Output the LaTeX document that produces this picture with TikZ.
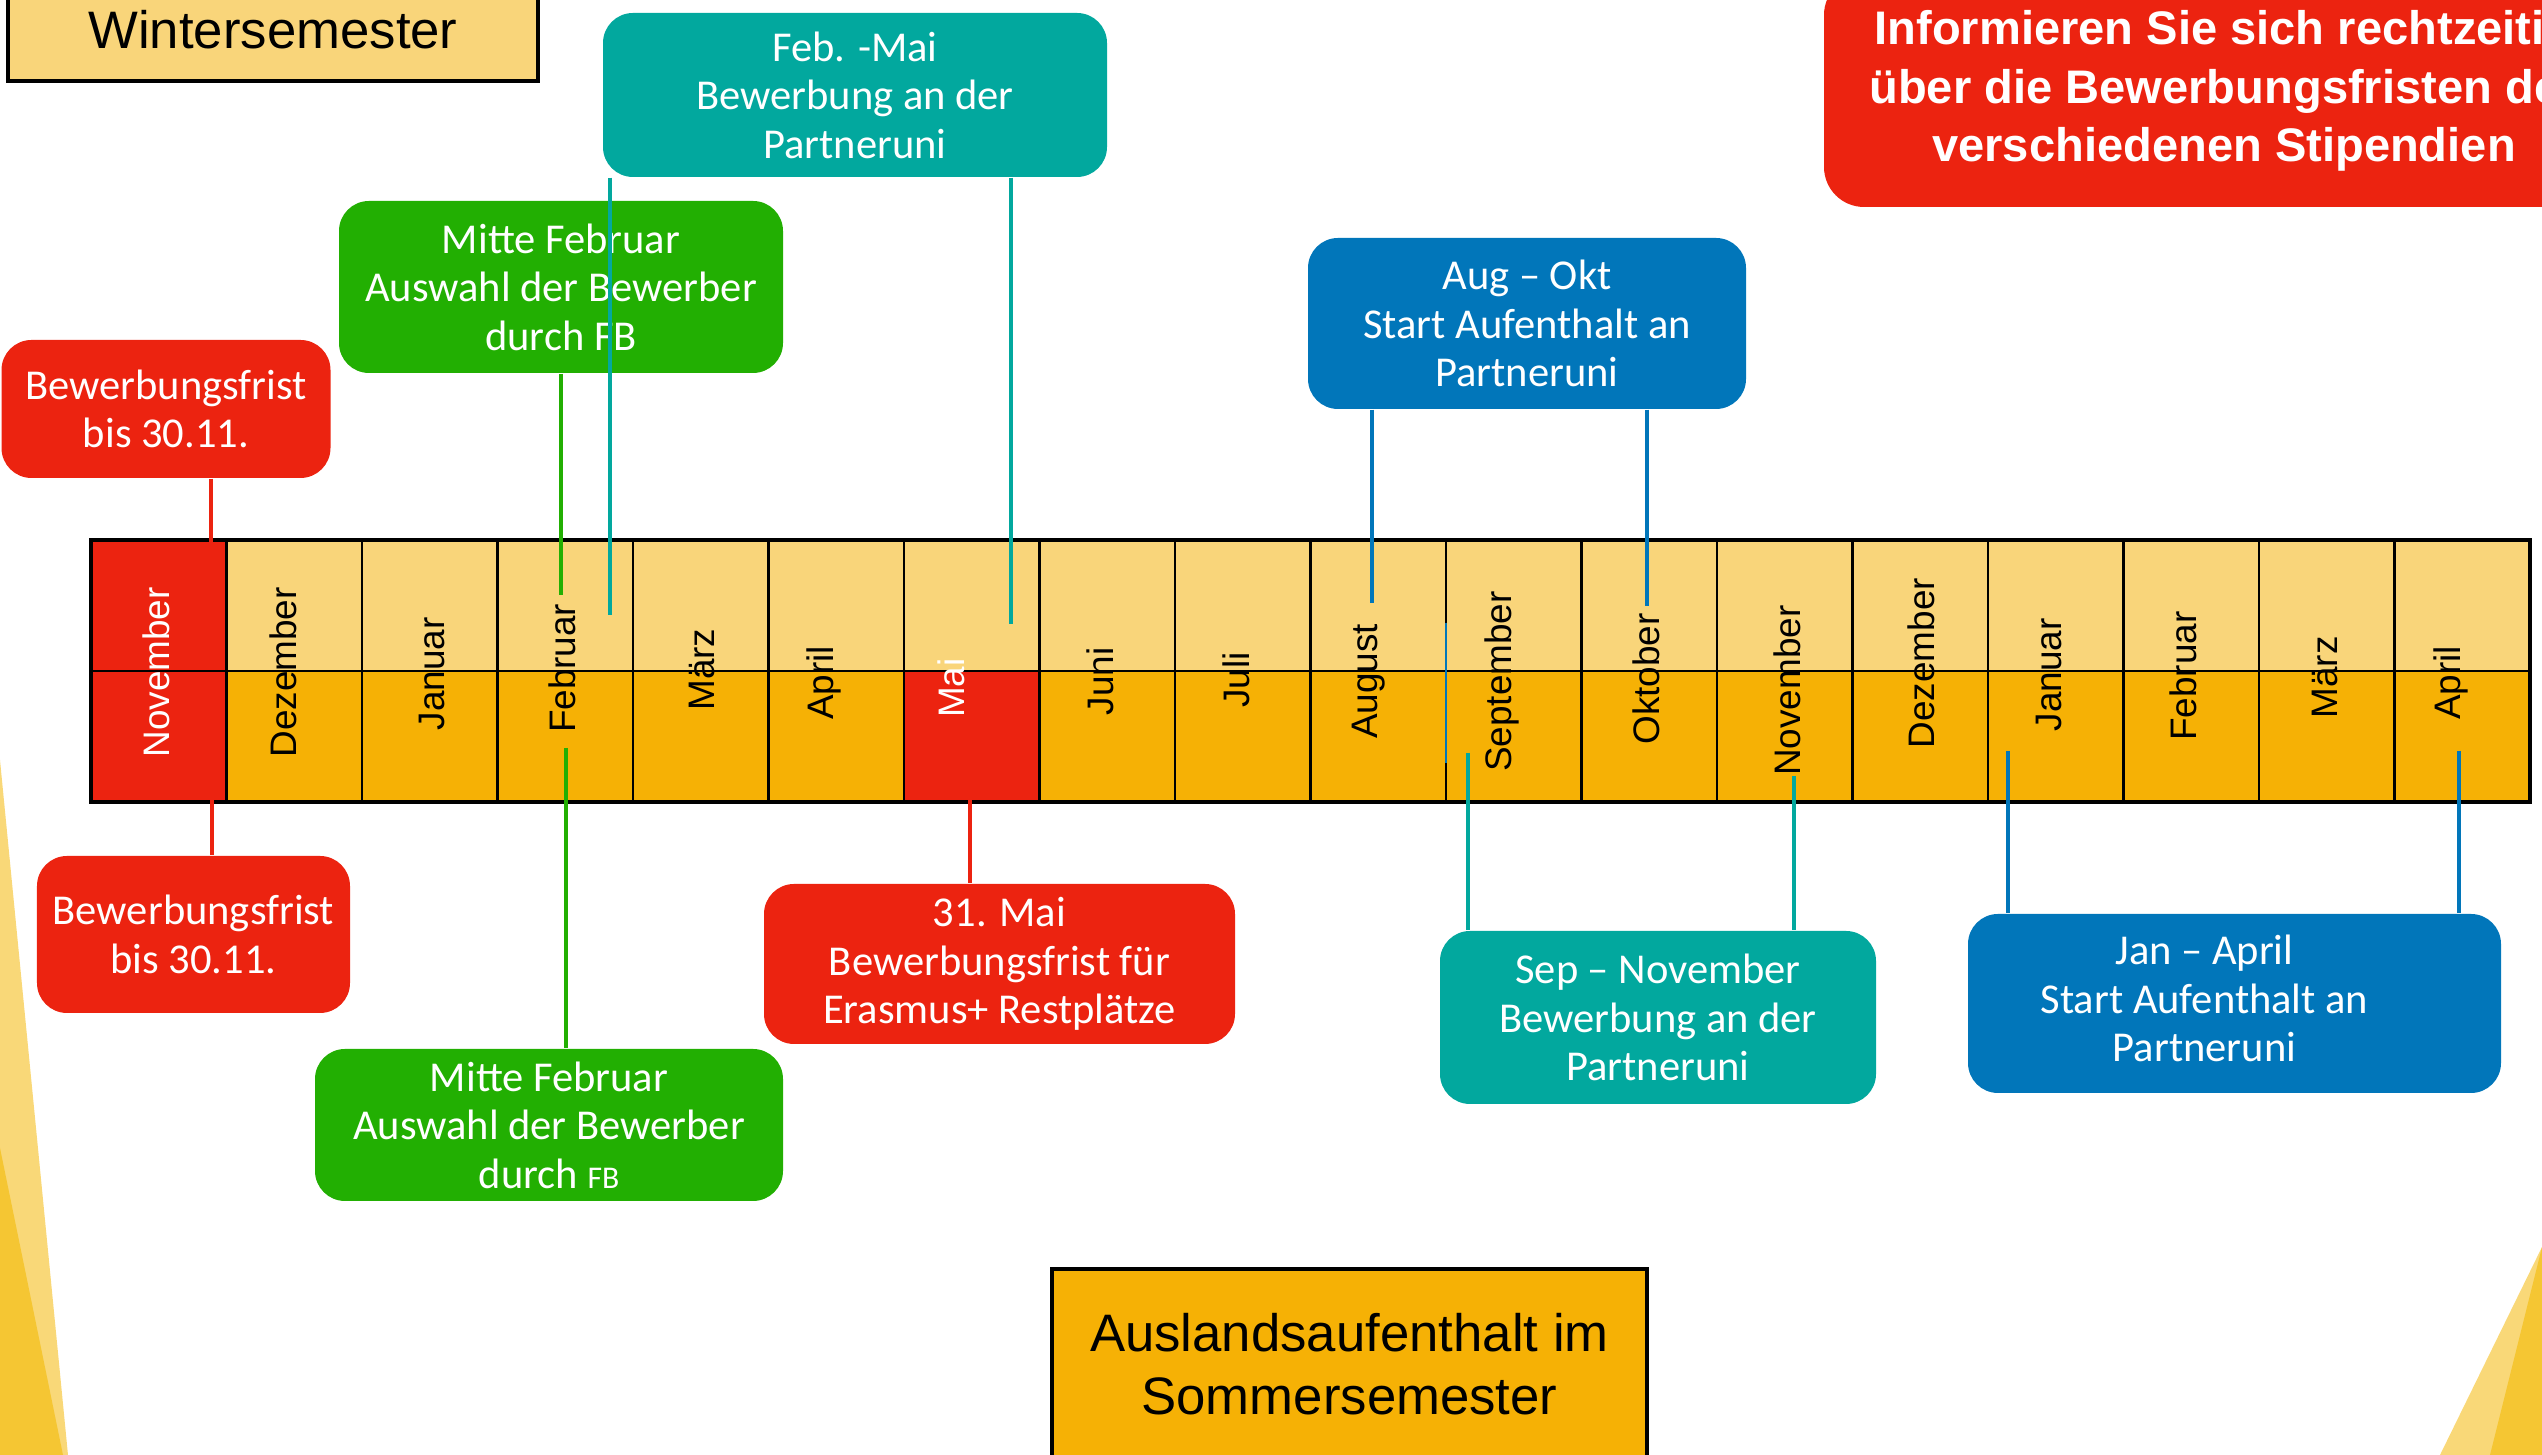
\documentclass[tikz,border=0pt]{standalone}
\usepackage{fontspec}
\setmainfont{Carlito}
\newfontfamily\arialfont{Liberation Sans}
\usetikzlibrary{positioning}

\definecolor{fristred}{HTML}{EC2310}
\definecolor{auswahlgreen}{HTML}{22AF02}
\definecolor{uniteal}{HTML}{02A89E}
\definecolor{startblue}{HTML}{0176BA}
\definecolor{wsyellow}{HTML}{F9D57A}
\definecolor{ssorange}{HTML}{F6B105}
\definecolor{cornerlight}{HTML}{F9D878}
\definecolor{cornerdark}{HTML}{F5C633}

\tikzset{
    callout/.style={rounded corners=3mm, text=white, align=center, inner sep=0pt,
        font=\fontsize{12.1}{13.8}\selectfont},
    pinline/.style={line width=1.3pt},
    cell/.style={draw=black, line width=0.7pt},
    monthlabel/.style={rotate=90, inner sep=0pt, font=\arialfont\fontsize{10.5}{12}\selectfont},
    titlebox/.style={draw=black, line width=0.9pt, align=center,
        font=\arialfont\fontsize{15}{18}\selectfont},
}

\begin{document}
\begin{tikzpicture}
    \path[use as bounding box, clip] (0,0) rectangle (25.42,14.55);

    %%% Corner decoration %%%
    \fill[cornerlight] (0,6.95) -- (0.68,0) -- (0,0) -- cycle;
    \fill[cornerdark] (0,3.07) -- (0.63,0) -- (0,0) -- cycle;
    \fill[cornerlight] (25.42,2.08) -- (24.40,0) -- (25.42,0) -- cycle;
    \fill[cornerdark] (25.42,2.08) -- (24.90,0) -- (25.42,0) -- cycle;

    %%% Semester boxes %%%
    \node[titlebox, fill=wsyellow, minimum width=5.30cm, minimum height=1.02cm] (winter) at (2.73,14.25) {Wintersemester};
    \node[titlebox, fill=ssorange, minimum width=5.95cm, minimum height=1.91cm] (sommer) at (13.495,0.905) {Auslandsaufenthalt im\\Sommersemester};
    \node[fill=fristred, rounded corners=4mm, text=white, align=center, minimum width=8cm, minimum height=2.32cm,
        font=\arialfont\bfseries\fontsize{13.4}{16.6}\selectfont] (hinweis) at (22.24,13.64)
        {Informieren Sie sich rechtzeitig\\über die Bewerbungsfristen der\\verschiedenen Stipendien};

    %%% Month table %%%
    \begin{scope}[shift={(0.91cm,6.53cm)}, x=1.355cm, y=1.31cm]
    % Upper row
    \draw[cell, fill=fristred] (0,1) rectangle (1,2); % Nov
    \draw[cell, fill=wsyellow] (1,1) rectangle (2,2); % Dez
    \draw[cell, fill=wsyellow] (2,1) rectangle (3,2); % Jan
    \draw[cell, fill=wsyellow] (3,1) rectangle (4,2); % Feb
    \draw[cell, fill=wsyellow] (4,1) rectangle (5,2); % Mar
    \draw[cell, fill=wsyellow] (5,1) rectangle (6,2); % Apr
    \draw[cell, fill=wsyellow] (6,1) rectangle (7,2); % Mai
    \draw[cell, fill=wsyellow] (7,1) rectangle (8,2); % Jun
    \draw[cell, fill=wsyellow] (8,1) rectangle (9,2); % Jul
    \draw[cell, fill=wsyellow] (9,1) rectangle (10,2); % Aug
    \draw[cell, fill=wsyellow] (10,1) rectangle (11,2); % Sep
    \draw[cell, fill=wsyellow] (11,1) rectangle (12,2); % Okt
    \draw[cell, fill=wsyellow] (12,1) rectangle (13,2); % Nov
    \draw[cell, fill=wsyellow] (13,1) rectangle (14,2); % Dez
    \draw[cell, fill=wsyellow] (14,1) rectangle (15,2); % Jan
    \draw[cell, fill=wsyellow] (15,1) rectangle (16,2); % Feb
    \draw[cell, fill=wsyellow] (16,1) rectangle (17,2); % Mar
    \draw[cell, fill=wsyellow] (17,1) rectangle (18,2); % Apr
    % Lower row
    \draw[cell, fill=fristred] (0,0) rectangle (1,1); % Nov
    \draw[cell, fill=ssorange] (1,0) rectangle (2,1); % Dez
    \draw[cell, fill=ssorange] (2,0) rectangle (3,1); % Jan
    \draw[cell, fill=ssorange] (3,0) rectangle (4,1); % Feb
    \draw[cell, fill=ssorange] (4,0) rectangle (5,1); % Mar
    \draw[cell, fill=ssorange] (5,0) rectangle (6,1); % Apr
    \draw[cell, fill=fristred] (6,0) rectangle (7,1); % Mai
    \draw[cell, fill=ssorange] (7,0) rectangle (8,1); % Jun
    \draw[cell, fill=ssorange] (8,0) rectangle (9,1); % Jul
    \draw[cell, fill=ssorange] (9,0) rectangle (10,1); % Aug
    \draw[cell, fill=ssorange] (10,0) rectangle (11,1); % Sep
    \draw[cell, fill=ssorange] (11,0) rectangle (12,1); % Okt
    \draw[cell, fill=ssorange] (12,0) rectangle (13,1); % Nov
    \draw[cell, fill=ssorange] (13,0) rectangle (14,1); % Dez
    \draw[cell, fill=ssorange] (14,0) rectangle (15,1); % Jan
    \draw[cell, fill=ssorange] (15,0) rectangle (16,1); % Feb
    \draw[cell, fill=ssorange] (16,0) rectangle (17,1); % Mar
    \draw[cell, fill=ssorange] (17,0) rectangle (18,1); % Apr
    \draw[black, line width=1pt] (0,0) rectangle (18,2);
    \draw[startblue, line width=0.5pt] (10,1.37) -- (10,0.30);
    % Month names
    \node[monthlabel, white] (nov1) at (0.48,0.99) {November};
    \node[monthlabel] (dez1) at (1.42,0.99) {Dezember};
    \node[monthlabel] (jan1) at (2.52,0.98) {Januar};
    \node[monthlabel] (feb1) at (3.48,1.02) {Februar};
    \node[monthlabel] (mar1) at (4.51,1.01) {März};
    \node[monthlabel] (apr1) at (5.41,0.91) {April};
    \node[monthlabel, white] (mai1) at (6.35,0.87) {Mai};
    \node[monthlabel] (jun1) at (7.45,0.92) {Juni};
    \node[monthlabel] (jul1) at (8.45,0.93) {Juli};
    \node[monthlabel] (aug1) at (9.43,0.92) {August};
    \node[monthlabel] (sep1) at (10.41,0.92) {September};
    \node[monthlabel] (okt1) at (11.48,0.94) {Oktober};
    \node[monthlabel] (nov2) at (12.52,0.85) {November};
    \node[monthlabel] (dez2) at (13.51,1.06) {Dezember};
    \node[monthlabel] (jan2) at (14.45,0.97) {Januar};
    \node[monthlabel] (feb2) at (15.44,0.96) {Februar};
    \node[monthlabel] (mar2) at (16.49,0.95) {März};
    \node[monthlabel] (apr2) at (17.42,0.91) {April};
    \end{scope}

    %%% Callout boxes %%%
    % above the table
    \node[callout, fill=fristred, minimum width=3.29cm, minimum height=1.38cm] (frist1) at (1.66,10.46) {Bewerbungsfrist\\bis 30.11.};
    \node[callout, fill=auswahlgreen, minimum width=4.44cm, minimum height=1.72cm] (auswahl1) at (5.61,11.68) {Mitte Februar\\Auswahl der Bewerber\\durch FB};
    \node[callout, fill=uniteal, minimum width=5.04cm, minimum height=1.64cm] (bewerbung1) at (8.55,13.60) {Feb. -Mai\\Bewerbung an der\\Partneruni};
    \node[callout, fill=startblue, minimum width=4.38cm, minimum height=1.71cm] (start1) at (15.27,11.315) {Aug – Okt\\Start Aufenthalt an\\Partneruni};
    % below the table
    \node[callout, fill=fristred, minimum width=3.13cm, minimum height=1.57cm] (frist2) at (1.935,5.205) {Bewerbungsfrist\\bis 30.11.};
    \node[callout, fill=fristred, minimum width=4.71cm, minimum height=1.60cm] (restplatz) at (9.995,4.91) {31. Mai\\Bewerbungsfrist für\\Erasmus+ Restplätze};
    \node[callout, fill=auswahlgreen, minimum width=4.68cm, minimum height=1.52cm] (auswahl2) at (5.49,3.30) {Mitte Februar\\Auswahl der Bewerber\\durch {\fontsize{9}{10}\selectfont FB}};
    \node[callout, fill=uniteal, minimum width=4.36cm, minimum height=1.73cm] (bewerbung2) at (16.58,4.375) {Sep – November\\Bewerbung an der\\Partneruni};
    \node[callout, fill=startblue, minimum width=5.33cm, minimum height=1.79cm] (start2) at (22.345,4.515)
        {\begin{tabular}{@{}c@{\hspace{6mm}}}Jan – April\\Start Aufenthalt an\\Partneruni\end{tabular}};

    %%% Connector lines %%%
    \coordinate (frist1end) at (2.11,8.52);
    \coordinate (auswahl1end) at (5.61,8.60);
    \coordinate (bewerbung1a) at (6.10,8.40);
    \coordinate (bewerbung1b) at (10.11,8.31);
    \coordinate (start1a) at (13.72,8.52);
    \coordinate (start1b) at (16.47,8.49);
    \coordinate (frist2end) at (2.12,6.75);
    \coordinate (restplatzend) at (9.70,6.64);
    \coordinate (auswahl2end) at (5.66,7.07);
    \coordinate (bewerbung2a) at (14.68,7.02);
    \coordinate (bewerbung2b) at (17.94,6.79);
    \coordinate (start2a) at (20.08,7.04);
    \coordinate (start2b) at (24.59,7.04);

    \draw[pinline, fristred] (frist1end |- frist1.south) -- (frist1end);
    \draw[pinline, auswahlgreen] (auswahl1end |- auswahl1.south) -- (auswahl1end);
    \draw[pinline, uniteal] (bewerbung1a |- bewerbung1.south) -- (bewerbung1a);
    \draw[pinline, uniteal] (bewerbung1b |- bewerbung1.south) -- (bewerbung1b);
    \draw[pinline, startblue] (start1a |- start1.south) -- (start1a);
    \draw[pinline, startblue] (start1b |- start1.south) -- (start1b);
    \draw[pinline, fristred] (frist2end) -- (frist2end |- frist2.north);
    \draw[pinline, fristred] (restplatzend) -- (restplatzend |- restplatz.north);
    \draw[pinline, auswahlgreen] (auswahl2end) -- (auswahl2end |- auswahl2.north);
    \draw[pinline, uniteal] (bewerbung2a) -- (bewerbung2a |- bewerbung2.north);
    \draw[pinline, uniteal] (bewerbung2b) -- (bewerbung2b |- bewerbung2.north);
    \draw[pinline, startblue] (start2a) -- (start2a |- start2.north);
    \draw[pinline, startblue] (start2b) -- (start2b |- start2.north);
\end{tikzpicture}
\end{document}
